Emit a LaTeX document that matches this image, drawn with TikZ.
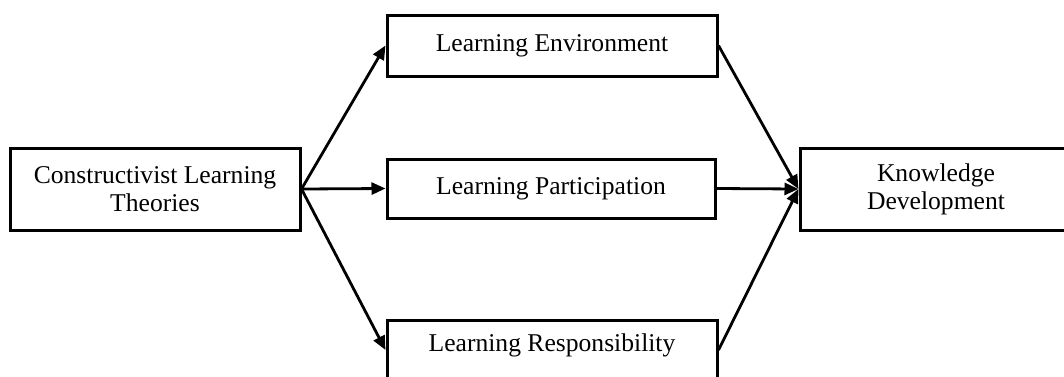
\documentclass[tikz,border=0pt]{standalone}
\usepackage{fontspec}
\setmainfont{Liberation Serif}
\usetikzlibrary{arrows.meta}
\begin{document}
\begin{tikzpicture}[x=0.5pt,y=-0.5pt,
  box/.style={draw, line width=1.5pt, rectangle, inner sep=0pt, align=center,
    font=\fontsize{12.8}{14}\selectfont},
  conn/.style={line width=1.4pt, -{Triangle[length=7pt,width=6pt]}}]
\clip (0,0) rectangle (1064,376);
\fill[white] (0,0) rectangle (1064,376);
\node[box, minimum width=145pt, minimum height=41pt] (clt) at (155,189) {Constructivist Learning\\Theories};
\node[box, minimum width=165pt, minimum height=30.5pt] (env) at (552,45.5) {Learning Environment};
\node[box, minimum width=164pt, minimum height=29.5pt] (par) at (551,188.5) {Learning Participation};
\node[box, minimum width=165pt, minimum height=29.5pt] (res) at (552,350) {};
\node[font=\fontsize{12.8}{14}\selectfont] (restext) at (552,345) {Learning Responsibility};
\node[box, minimum width=136pt, minimum height=41pt] (kd) at (936,189) {Knowledge\\Development};
\draw[conn] (clt.east) -- (env.west);
\draw[conn] (clt.east) -- (par.west);
\draw[conn] (clt.east) -- (res.west);
\draw[conn] (env.east) -- (kd.west);
\draw[conn] (par.east) -- (kd.west);
\draw[conn] (res.east) -- (kd.west);
\end{tikzpicture}
\end{document}
